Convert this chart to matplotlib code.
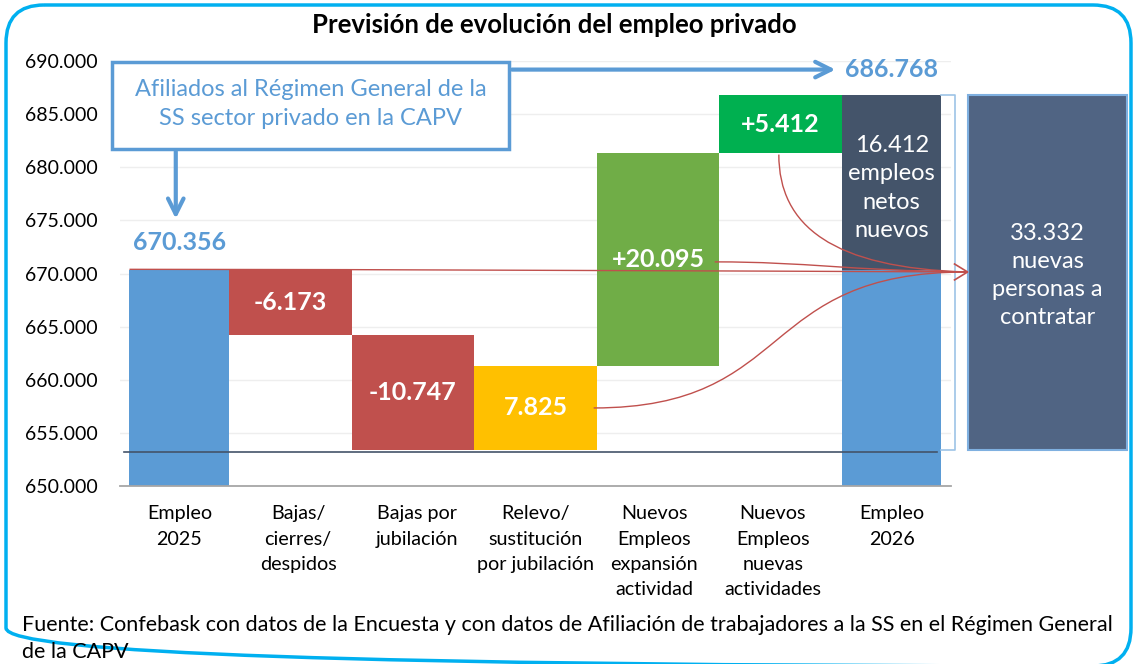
import matplotlib.pyplot as plt
from matplotlib.patches import Rectangle, PathPatch, FancyBboxPatch
from matplotlib.path import Path

plt.rcParams['font.family'] = ['Lato', 'DejaVu Sans']

# datos
categorias = ['Empleo\n2025', 'Bajas/\ncierres/\ndespidos', 'Bajas por\njubilación',
              'Relevo/\nsustitución\npor jubilación', 'Nuevos\nEmpleos\nexpansión\nactividad',
              'Nuevos\nEmpleos\nnuevas\nactividades', 'Empleo\n2026']
empleo_2025 = 670356
cambios = [-6173, -10747, 7825, 20095, 5412]
cambio_labels = ['-6.173', '-10.747', '7.825', '+20.095', '+5.412']
cambio_colores = ['#C0504D', '#C0504D', '#FFC000', '#70AD47', '#00B050']
empleo_2026 = 686768
netos_nuevos = 16412
a_contratar = 33332
yticks = [650000, 655000, 660000, 665000, 670000, 675000, 680000, 685000, 690000]


def fmt(v):
    return f"{v:,}".replace(',', '.')


AZUL = '#5B9BD5'
ROJO = '#C0504D'
PIZARRA = '#44546A'

fig = plt.figure(figsize=(11.34, 6.64), dpi=100)
ax = fig.add_axes([0.1058, 0.268, 0.7328, 0.640])

# barras inicial y final
ax.bar(0, empleo_2025, width=0.84, color=AZUL, zorder=2)
ax.bar(6, empleo_2025, width=0.84, color=AZUL, zorder=2)
ax.bar(6, netos_nuevos, bottom=empleo_2025, width=0.84, color=PIZARRA, zorder=2)

# barras intermedias (cascada)
izq, der = 0.42, 5.58
w = (der - izq) / len(cambios)
nivel = empleo_2025
minimo = nivel
for i, (c, lab, col) in enumerate(zip(cambios, cambio_labels, cambio_colores)):
    base = min(nivel, nivel + c)
    x0 = izq + i * w
    ax.bar(x0, abs(c), bottom=base, width=w, align='edge', color=col, zorder=2)
    ax.text(x0 + w / 2, base + abs(c) / 2, lab, ha='center', va='center',
            color='white', fontsize=18, fontweight='bold', zorder=5)
    nivel += c
    minimo = min(minimo, nivel)

# textos de las barras
ax.text(0, 672950, fmt(empleo_2025), ha='center', va='center', color=AZUL,
        fontsize=18, fontweight='bold')
ax.text(6, 678050, f"{fmt(netos_nuevos)}\nempleos\nnetos\nnuevos", ha='center', va='center',
        color='white', fontsize=17, linespacing=1.42, zorder=5)

# caja derecha
ax.add_patch(Rectangle((6.644, minimo), 1.336, empleo_2026 - minimo, facecolor='#506483',
                       edgecolor='#7FB0E0', lw=1.5, clip_on=False, zorder=3))
ax.text(7.312, 669800, f"{fmt(a_contratar)}\nnuevas\npersonas a\ncontratar", ha='center',
        va='center', color='white', fontsize=17, linespacing=1.42, zorder=5)

# corchete
ax.plot([6.42, 6.53, 6.53, 6.42], [empleo_2026, empleo_2026, minimo, minimo],
        color='#9DC3E6', lw=1.2, clip_on=False, zorder=3)

# linea base
ax.plot([-0.47, 6.38], [minimo - 250, minimo - 250], color=PIZARRA, lw=1.2, zorder=4)

# flechas rojas
tip = (6.64, 670150)
curvas = [
    [(-0.42, 670400), (2.0, 670380), (4.5, 670250), tip],
    [(4.51, 671100), (5.3, 671100), (5.6, 670300), tip],
    [(5.05, 681200), (5.05, 674500), (5.5, 670500), tip],
    [(3.49, 657350), (5.2, 657350), (4.85, 670200), tip],
]
for pts in curvas:
    p = Path(pts, [Path.MOVETO, Path.CURVE4, Path.CURVE4, Path.CURVE4])
    ax.add_patch(PathPatch(p, facecolor='none', edgecolor=ROJO, lw=1, clip_on=False, zorder=6))
ax.plot([tip[0] - 0.11, tip[0], tip[0] - 0.11], [tip[1] + 750, tip[1], tip[1] - 750],
        color=ROJO, lw=1.2, clip_on=False, zorder=6)

# recuadro explicativo
ax.add_patch(Rectangle((-0.567, 681760), 3.345, 8110, facecolor='white', edgecolor=AZUL,
                       lw=2.5, clip_on=False, zorder=7))
ax.text(1.105, 685950, 'Afiliados al Régimen General de la\nSS sector privado en la CAPV',
        ha='center', va='center', color=AZUL, fontsize=17, linespacing=1.43, zorder=8)
ax.annotate('', xy=(-0.03, 674900), xytext=(-0.03, 681760),
            arrowprops=dict(arrowstyle='->', color=AZUL, lw=3, mutation_scale=28), zorder=8)
ax.annotate('', xy=(5.55, 689200), xytext=(2.778, 689200),
            arrowprops=dict(arrowstyle='->', color=AZUL, lw=3, mutation_scale=28), zorder=8)
ax.text(6.0, 689200, fmt(empleo_2026), ha='center', va='center', color=AZUL,
        fontsize=18, fontweight='bold')

# ejes
ax.set_xlim(-0.5, 6.5)
ax.set_ylim(650000, 690000)
ax.set_yticks(yticks)
ax.set_yticklabels([fmt(v) for v in yticks], fontsize=14)
ax.set_xticks(range(len(categorias)))
ax.set_xticklabels(categorias, fontsize=14.2, linespacing=1.58)
ax.tick_params(axis='x', length=0, pad=14)
ax.tick_params(axis='y', length=0, pad=16)
ax.grid(axis='y', color='#EEEEEE', lw=1, zorder=0)
ax.set_axisbelow(True)
for s in ['top', 'right', 'left']:
    ax.spines[s].set_visible(False)
ax.spines['bottom'].set_color('#A6A6A6')
ax.spines['bottom'].set_linewidth(1.3)

fig.text(0.4885, 0.962, 'Previsión de evolución del empleo privado', ha='center', va='center',
         fontsize=18.5, fontweight='bold')
fig.text(0.019, 0.0385, 'Fuente: Confebask con datos de la Encuesta y con datos de Afiliación de '
         'trabajadores a la SS en el Régimen General\nde la CAPV', ha='left', va='center',
         fontsize=15.5, linespacing=1.45)

# marco redondeado
ov = fig.add_axes([0, 0, 1, 1], facecolor='none')
ov.set_xlim(0, 1134)
ov.set_ylim(664, 0)
ov.axis('off')
ov.add_patch(FancyBboxPatch((6, 5), 1125, 661, boxstyle='round,pad=0,rounding_size=38',
                            facecolor='none', edgecolor='#00B0F0', lw=2.5))

fig.savefig('out.png', dpi=100)
